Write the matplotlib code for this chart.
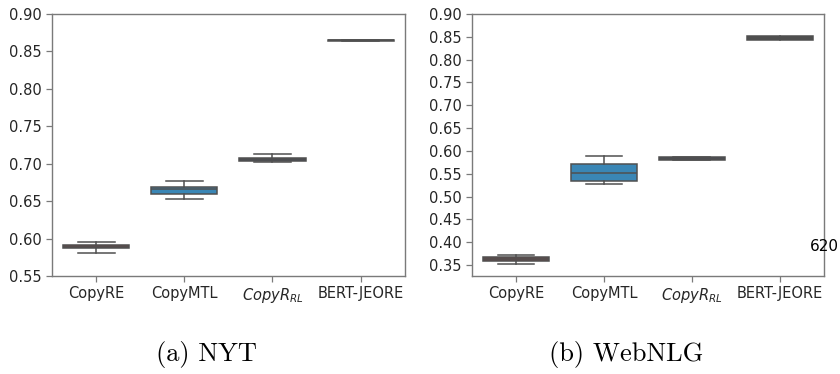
import matplotlib
matplotlib.use("Agg")
import matplotlib.pyplot as plt

methods = ["CopyRE", "CopyMTL", "$CopyR_{RL}$", "BERT-JEORE"]
colors = ["#6b4744", "#3a86b5", "#474a55", "#4d4d4d"]

# five-number summaries: (whislo, q1, med, q3, whishi)
nyt_stats = [
    (0.581, 0.587, 0.589, 0.592, 0.595),
    (0.653, 0.660, 0.666, 0.669, 0.677),
    (0.702, 0.704, 0.706, 0.708, 0.713),
    (0.864, 0.8635, 0.865, 0.8655, 0.865),
]
webnlg_stats = [
    (0.352, 0.359, 0.363, 0.367, 0.372),
    (0.527, 0.535, 0.551, 0.571, 0.590),
    (0.581, 0.580, 0.583, 0.587, 0.586),
    (0.846, 0.844, 0.848, 0.852, 0.850),
]

edge = "#505050"


def draw(ax, stats, ylim, yticks):
    bxp = []
    for lo, q1, med, q3, hi in stats:
        bxp.append({"whislo": lo, "q1": q1, "med": med, "q3": q3, "whishi": hi, "fliers": []})
    parts = ax.bxp(bxp, positions=range(len(stats)), widths=0.75, capwidths=0.42,
                   patch_artist=True, showfliers=False,
                   boxprops=dict(edgecolor=edge, linewidth=1.1),
                   whiskerprops=dict(color=edge, linewidth=1.1),
                   capprops=dict(color=edge, linewidth=1.1),
                   medianprops=dict(color=edge, linewidth=1.1))
    for box, c in zip(parts["boxes"], colors):
        box.set_facecolor(c)
    ax.set_xlim(-0.5, len(stats) - 0.5)
    ax.set_ylim(*ylim)
    ax.set_yticks(yticks)
    ax.set_yticklabels(["%.2f" % t for t in yticks])
    ax.set_xticks(range(len(stats)))
    ax.set_xticklabels(methods)
    for s in ax.spines.values():
        s.set_color("#7a7a7a")
        s.set_linewidth(1.0)
    ax.tick_params(colors="#262626", labelsize=10.5, length=4, width=0.9)
    ax.tick_params(axis="both", color="#7a7a7a")


fig = plt.figure(figsize=(8.4, 3.74), dpi=100)
ax1 = fig.add_axes([0.0619, 0.262, 0.420, 0.7005])
ax2 = fig.add_axes([0.5619, 0.262, 0.419, 0.7005])

draw(ax1, nyt_stats, (0.55, 0.90), [0.55, 0.60, 0.65, 0.70, 0.75, 0.80, 0.85, 0.90])
draw(ax2, webnlg_stats, (0.326, 0.90),
     [0.35, 0.40, 0.45, 0.50, 0.55, 0.60, 0.65, 0.70, 0.75, 0.80, 0.85, 0.90])

fig.text(0.246, 0.051, "(a) NYT", ha="center", va="center", family="cmr10", fontsize=19)
fig.text(0.746, 0.051, "(b) WebNLG", ha="center", va="center", family="cmr10", fontsize=19)
fig.text(0.9985, 0.342, "620", ha="right", va="center", fontsize=11, color="black")

fig.savefig("out.png", dpi=100)
